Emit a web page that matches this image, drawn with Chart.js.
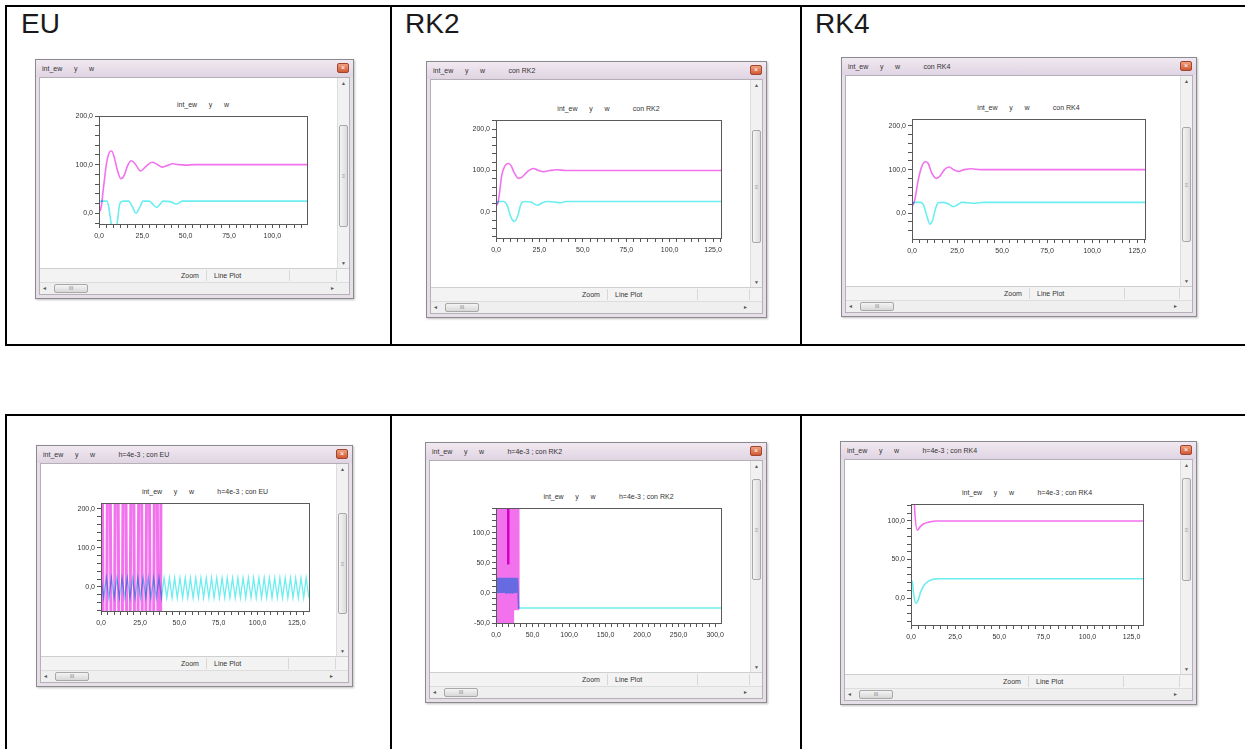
<!DOCTYPE html>
<html>
<head>
<meta charset="utf-8">
<script src="https://cdn.jsdelivr.net/npm/chart.js@4.4.0/dist/chart.umd.min.js"></script>
<style>
body { margin:0; width:1245px; height:749px; position:relative; overflow:hidden; background:#fff; font-family:"Liberation Sans", Arial, sans-serif; }
.ln { position:absolute; background:#000; }
.cap { position:absolute; top:10px; font-size:28px; line-height:28px; color:#1a1a1a; }
.win { position:absolute; box-sizing:border-box; border:1px solid #8c8a8e; background:#e6dfe8; box-shadow:1px 1px 2px rgba(0,0,0,0.25); }
.tbar { position:absolute; left:0; right:0; top:0; height:17px; background:linear-gradient(#f1e9f1,#e0d4e3); }
.ttxt { position:absolute; left:6px; top:0; line-height:17px; font-size:7px; color:#333; white-space:pre; }
.close { position:absolute; right:4px; top:3px; width:12px; height:10px; border-radius:2px; background:linear-gradient(#f0a080,#d05a34); border:1px solid #a0452c; box-sizing:border-box; color:#fff; font-size:7px; line-height:8px; text-align:center; }
.client { position:absolute; left:3px; right:3px; top:17px; bottom:3px; background:#fff; border:1px solid #b4b0b8; box-sizing:border-box; }
.vs { position:absolute; right:0; top:0; width:11px; background:#f1f1f1; border-left:1px solid #ddd; }
.vthumb { position:absolute; left:1px; right:1px; background:linear-gradient(90deg,#f4f4f4,#dcdcdc); border:1px solid #a8a8a8; border-radius:2px; box-sizing:border-box; }
.arr { position:absolute; left:0; right:0; text-align:center; font-size:5px; color:#555; }
.status { position:absolute; left:0; right:0; height:13px; background:#f3f3f3; border-top:1px solid #cfcfcf; font-size:7px; line-height:13px; color:#333; }
.sep { position:absolute; top:1px; bottom:1px; width:1px; background:#d8d8d8; }
.hs { position:absolute; left:0; right:0; bottom:0; height:11px; background:#efefef; border-top:1px solid #ddd; }
.hthumb { position:absolute; top:1px; bottom:1px; left:14px; width:34px; background:linear-gradient(#f4f4f4,#d8d8d8); border:1px solid #a8a8a8; border-radius:2px; box-sizing:border-box; font-size:5px; line-height:7px; text-align:center; color:#777; }
.ptitle { position:absolute; font-size:7px; color:#333; white-space:pre; transform:translateX(-50%); }
canvas { position:absolute; }
</style>
</head>
<body>
<div class="ln" style="left:5px;top:5px;width:1240px;height:2px"></div>
<div class="ln" style="left:5px;top:344px;width:1240px;height:2px"></div>
<div class="ln" style="left:5px;top:5px;width:2px;height:341px"></div>
<div class="ln" style="left:390px;top:5px;width:2px;height:341px"></div>
<div class="ln" style="left:800px;top:5px;width:2px;height:341px"></div>
<div class="ln" style="left:5px;top:414px;width:1240px;height:2px"></div>
<div class="ln" style="left:5px;top:414px;width:2px;height:335px"></div>
<div class="ln" style="left:390px;top:414px;width:2px;height:335px"></div>
<div class="ln" style="left:800px;top:414px;width:2px;height:335px"></div>
<div class="cap" style="left:21px">EU</div>
<div class="cap" style="left:405px">RK2</div>
<div class="cap" style="left:815px">RK4</div>
<script>
// ---- EU, default step ----
var euMagT = [0, 0.8, 2.5, 4.4, 5.8, 7.2, 8.6, 10.5, 12.6, 14.5, 16.5, 18.7, 21, 23.9, 27, 30.6, 33.4, 36.2, 39.3, 42.6, 46, 50, 55, 120];
var euMagY = [20, 5, 50, 104, 124, 128, 118, 90, 71, 78, 98, 108, 101, 87, 96, 105, 101, 95, 98, 102, 100, 99, 100, 100];
var euCyT = [0, 1, 4.5, 5.5, 7, 9, 10.5, 12, 14, 17, 19.5, 21.3, 23.5, 25.5, 29, 31.5, 33.3, 35, 37, 41, 43, 44.8, 46.5, 48, 55, 120];
var euCyY = [20, 25, 25, 15, -20, -45, -20, 20, 25, 25, 12, 0, 12, 25, 25, 17, 12, 18, 25, 24, 21, 19, 22, 25, 25, 25];

// ---- RK2, default step ----
var rk2MagT = [0, 1, 2, 3.3, 5, 7, 8.5, 10.5, 13, 15, 18, 21.5, 24.5, 27.5, 31, 35, 40, 130];
var rk2MagY = [15, 20, 45, 88, 110, 117, 113, 95, 81, 84, 97, 105, 100, 97, 100, 102, 100, 100];
var rk2CyT = [0, 1.5, 4.5, 6.5, 8.5, 10.5, 12.5, 14.5, 16.5, 20, 23.8, 27, 30, 34, 37, 40, 130];
var rk2CyY = [18, 25, 25, 15, -12, -23, -10, 20, 25, 24, 16, 23, 25, 24, 22, 25, 25];

// ---- RK4, default step ----
var rk4MagT = [0, 1.5, 3.5, 5.5, 7.5, 9, 11, 13.5, 15.5, 18, 20.5, 23, 25.7, 29, 33, 38, 130];
var rk4MagY = [15, 30, 77, 108, 118, 114, 92, 80, 85, 100, 106, 100, 96, 100, 102, 100, 100];
var rk4CyT = [0, 1.5, 5, 6.5, 8.5, 10, 11.5, 13, 14.6, 17, 20, 23, 25.5, 27.6, 31, 35, 40, 130];
var rk4CyY = [20, 25, 25, 18, -10, -25, -15, 10, 24, 25, 22, 15, 20, 25, 24, 23, 25, 25];

// ---- EU, h=4e-3 (diverging int_ew, oscillating w) ----
var euhMagT = [0, 2.5, 5, 7.5, 10, 12.5, 15, 17.5, 20, 22.5, 25, 27.5, 30, 32.5, 35, 37.5, 38.7];
var euhMagY = [1000, -1000, 1000, -1000, 1000, -1000, 1000, -1000, 1000, -1000, 1000, -1000, 1000, -1000, 1000, -1000, 1000];
var euhCyT = [0, 1.7, 3.4, 5.0, 6.7, 8.4, 10.1, 11.8, 13.4, 15.1, 16.8, 18.5, 20.2, 21.8, 23.5, 25.2, 26.9, 28.6, 30.2, 31.9,
  33.6, 35.3, 37.0, 38.6, 40.3, 42.0, 43.7, 45.4, 47.0, 48.7, 50.4, 52.1, 53.8, 55.4, 57.1, 58.8, 60.5, 62.2, 63.8, 65.5,
  67.2, 68.9, 70.6, 72.2, 73.9, 75.6, 77.3, 79.0, 80.6, 82.3, 84.0, 85.7, 87.4, 89.0, 90.7, 92.4, 94.1, 95.8, 97.4, 99.1,
  100.8, 102.5, 104.2, 105.8, 107.5, 109.2, 110.9, 112.6, 114.2, 115.9, 117.6, 119.3, 121.0, 122.6, 124.3, 126.0, 127.7, 129.4, 131.0, 132.7];
var euhCyY = [23, -28, 23, -28, 23, -28, 23, -28, 23, -28, 23, -28, 23, -28, 23, -28, 23, -28, 23, -28,
  23, -28, 23, -28, 23, -28, 23, -28, 23, -28, 23, -28, 23, -28, 23, -28, 23, -28, 23, -28,
  23, -28, 23, -28, 23, -28, 23, -28, 23, -28, 23, -28, 23, -28, 23, -28, 23, -28, 23, -28,
  23, -28, 23, -28, 23, -28, 23, -28, 23, -28, 23, -28, 23, -28, 23, -28, 23, -28, 23, -28];

// ---- RK2, h=4e-3 ----
var rk2hMagT = [0, 1, 2, 3, 4, 5, 6, 7, 8, 9, 10, 11, 12, 13, 14, 15, 16, 17, 18, 19, 20, 21, 22, 23, 24, 25, 26, 27, 28, 29, 30, 31];
var rk2hMagY = [1000, -1000, 1000, -1000, 1000, -1000, 1000, -1000, 1000, -1000, 1000, -1000, 1000, -1000, 1000, -1000,
  1000, -1000, 1000, -1000, 1000, -1000, 1000, -1000, 1000, -27, 1000, -27, 1000, -27, 1000, -27];
var rk2hDarkT = [16.8, 16.8];
var rk2hDarkY = [47, 1000];
var rk2hCyT = [0, 1, 2, 3, 4, 5, 6, 7, 8, 9, 10, 11, 12, 13, 14, 15, 16, 17, 18, 19, 20, 21, 22, 23, 24, 25, 26, 27, 28, 29.5, 31, 308];
var rk2hCyY = [0, 25, 0, 25, 0, 25, 0, 25, 0, 25, 0, 25, 0, 25, 0, 25, 0, 25, 0, 25, 0, 25, 0, 25, 0, 25, 0, 25, 0, 25, -25, -25];

// ---- RK4, h=4e-3 ----
var rk4hMagT = [0, 0.4, 1.2, 2.2, 3.6, 5, 7, 10, 15, 132];
var rk4hMagY = [40, 160, 160, 110, 88, 92, 96, 98.5, 100, 100];
var rk4hCyT = [0, 0.7, 1.5, 2.8, 4, 5.5, 7.5, 10, 13, 16, 132];
var rk4hCyY = [15, 22, 5, -7, -3, 8, 17, 22, 24.5, 25, 25];

var MAG = '#f272ee';
var CY = '#6ceef0';
var FONT = '"Liberation Sans", Arial, sans-serif';

function pts(t, y) {
  return t.map(function (v, i) { return { x: v, y: y[i] }; });
}

function fmt(v) {
  return v.toFixed(1).replace('.', ',');
}

// w is drawn over int_ew with a multiply blend, so it turns blue on the pink
var blend = {
  id: 'blend',
  beforeDatasetDraw: function (chart, args) {
    if (chart.data.datasets[args.index].mult) chart.ctx.globalCompositeOperation = 'multiply';
  },
  afterDatasetDraw: function (chart) {
    chart.ctx.globalCompositeOperation = 'source-over';
  }
};

var box = {
  id: 'box',
  afterDatasetsDraw: function (chart) {
    var a = chart.chartArea, c = chart.ctx;
    c.save();
    c.strokeStyle = '#5a5a5a';
    c.lineWidth = 1;
    c.strokeRect(Math.round(a.left) + 0.5, Math.round(a.top) + 0.5, Math.round(a.right - a.left), Math.round(a.bottom - a.top));
    c.restore();
  }
};

var YW = 34, PT = 8, PR = 16, XH = 20;

function axis(pos, min, max, major, minor) {
  return {
    type: 'linear', position: pos, min: min, max: max,
    afterBuildTicks: function (s) {
      var list = [];
      for (var k = Math.ceil(min / minor - 1e-6); k * minor <= max + 1e-6; k++) list.push({ value: k * minor });
      s.ticks = list;
    },
    afterFit: function (s) {
      if (pos === 'left') s.width = YW; else s.height = XH;
    },
    grid: { drawOnChartArea: false, drawTicks: true, tickLength: 4, tickColor: '#555', color: '#555' },
    border: { display: true, color: '#555' },
    ticks: {
      autoSkip: false, maxRotation: 0, padding: pos === 'left' ? 2 : 4, color: '#333',
      font: { size: 7, family: FONT },
      callback: function (v) {
        var r = v / major;
        return Math.abs(r - Math.round(r)) < 1e-6 ? fmt(v) : '';
      }
    }
  };
}

// sets: [t, values, colour, width, interpolation, multiply]; first entry is drawn on top
var panels = [
  { win: [35, 59, 319, 240], plot: [99, 116, 307, 224], thumb: [0.275, 0.70], wt: 'int_ew      y      w', pt: 'int_ew      y      w',
    x: [0, 120, 25, 25 / 6], y: [-22, 200, 100, 20],
    sets: [[euCyT, euCyY, CY, 1.6, 'm', true], [euMagT, euMagY, MAG, 1.6, 'm']] },
  { win: [426, 61, 341, 257], plot: [496, 120, 721, 238], thumb: [0.27, 0.71], wt: 'int_ew      y      w            con RK2', pt: 'int_ew      y      w            con RK2',
    x: [0, 129.6, 25, 25 / 6], y: [-63, 222, 100, 20],
    sets: [[rk2CyT, rk2CyY, CY, 1.6, 'm', true], [rk2MagT, rk2MagY, MAG, 1.6, 'm']] },
  { win: [841, 57, 356, 260], plot: [912, 119, 1145, 239], thumb: [0.27, 0.71], wt: 'int_ew      y      w            con RK4', pt: 'int_ew      y      w            con RK4',
    x: [0, 129.3, 25, 25 / 6], y: [-59, 216, 100, 20],
    sets: [[rk4CyT, rk4CyY, CY, 1.6, 'm', true], [rk4MagT, rk4MagY, MAG, 1.6, 'm']] },
  { win: [36, 445, 317, 242], plot: [101, 503, 309, 611], thumb: [0.28, 0.70], wt: 'int_ew      y      w            h=4e-3 ; con EU', pt: 'int_ew      y      w            h=4e-3 ; con EU',
    x: [0, 132.8, 25, 25 / 6], y: [-62, 215, 100, 20],
    sets: [[euhCyT, euhCyY, CY, 1.3, 0, true], [euhMagT, euhMagY, MAG, 3, 0]] },
  { win: [425, 442, 342, 261], plot: [496, 508, 721, 623], thumb: [0.14, 0.53], wt: 'int_ew      y      w            h=4e-3 ; con RK2', pt: 'int_ew      y      w            h=4e-3 ; con RK2',
    x: [0, 308, 50, 50 / 6], y: [-50, 141, 50, 10],
    sets: [[rk2hCyT, rk2hCyY, CY, 1.5, 0, true], [rk2hDarkT, rk2hDarkY, '#d400c6', 2.5, 0], [rk2hMagT, rk2hMagY, MAG, 2, 0]] },
  { win: [840, 441, 357, 264], plot: [911, 504, 1143, 625], thumb: [0.14, 0.53], wt: 'int_ew      y      w            h=4e-3 ; con RK4', pt: 'int_ew      y      w            h=4e-3 ; con RK4',
    x: [0, 131.5, 25, 25 / 6], y: [-35, 122, 50, 10],
    sets: [[rk4hCyT, rk4hCyY, CY, 1.6, 'm', true], [rk4hMagT, rk4hMagY, MAG, 1.6, 'm']] }
];

function el(tag, cls, parent, css, text) {
  var d = document.createElement(tag);
  if (cls) d.className = cls;
  if (css) d.style.cssText = css;
  if (text) d.textContent = text;
  parent.appendChild(d);
  return d;
}

panels.forEach(function (p) {
  var wx = p.win[0], wy = p.win[1], ww = p.win[2], wh = p.win[3];
  var w = el('div', 'win', document.body, 'left:' + wx + 'px;top:' + wy + 'px;width:' + ww + 'px;height:' + wh + 'px');
  var tb = el('div', 'tbar', w);
  el('div', 'ttxt', tb, null, p.wt);
  el('div', 'close', tb, null, '×');
  var cl = el('div', 'client', w);
  // client origin in page coords
  var cx = wx + 1 + 3 + 1, cy = wy + 1 + 17 + 1;
  var ch = wh - 2 - 17 - 3 - 2;
  var vs = el('div', 'vs', cl, 'height:' + (ch - 26) + 'px');
  el('div', 'arr', vs, 'top:2px', '▲');
  el('div', 'arr', vs, 'bottom:2px', '▼');
  var t0 = Math.round(p.thumb[0] * wh) - 19, t1 = Math.round(p.thumb[1] * wh) - 19;
  el('div', 'vthumb', vs, 'top:' + t0 + 'px;height:' + (t1 - t0) + 'px');
  el('div', 'arr', vs, 'top:' + Math.round((t0 + t1) / 2 - 3) + 'px;font-size:6px;color:#999', '≡');
  var st = el('div', 'status', cl, 'bottom:12px');
  var zx = Math.round(ww * 0.455) - 4;
  el('span', null, st, 'position:absolute;left:' + zx + 'px', 'Zoom');
  el('div', 'sep', st, 'left:' + (zx + 25) + 'px');
  el('span', null, st, 'position:absolute;left:' + (zx + 33) + 'px', 'Line Plot');
  el('div', 'sep', st, 'left:' + Math.round(ww * 0.78) + 'px');
  el('div', 'sep', st, 'right:12px');
  var hs = el('div', 'hs', cl);
  el('div', 'arr', hs, 'left:2px;right:auto;top:2px', '◄');
  el('div', 'arr', hs, 'right:14px;left:auto;top:2px', '►');
  el('div', 'hthumb', hs, null, 'III');

  var pl = p.plot[0], ptp = p.plot[1], pr = p.plot[2], pb = p.plot[3];
  el('div', 'ptitle', cl, 'left:' + ((pl + pr) / 2 - cx) + 'px;top:' + (ptp - cy - 15) + 'px', p.pt);

  var cv = el('canvas', null, cl);
  var cw = (pr - pl) + YW + PR, chh = (pb - ptp) + PT + XH;
  cv.width = cw; cv.height = chh;
  cv.style.left = (pl - cx - YW) + 'px';
  cv.style.top = (ptp - cy - PT) + 'px';
  cv.style.width = cw + 'px'; cv.style.height = chh + 'px';

  var ds = p.sets.map(function (s) {
    return {
      data: pts(s[0], s[1]),
      borderColor: s[2], borderWidth: s[3],
      pointRadius: 0, fill: false, clip: 0,
      cubicInterpolationMode: s[4] === 'm' ? 'monotone' : 'default',
      tension: 0,
      mult: !!s[5]
    };
  });

  new Chart(cv, {
    type: 'line',
    data: { datasets: ds },
    options: {
      responsive: false, animation: false, devicePixelRatio: 1,
      layout: { padding: { top: PT, right: PR, left: 0, bottom: 0 } },
      plugins: { legend: { display: false }, title: { display: false }, tooltip: { enabled: false } },
      scales: {
        x: axis('bottom', p.x[0], p.x[1], p.x[2], p.x[3]),
        y: axis('left', p.y[0], p.y[1], p.y[2], p.y[3])
      }
    },
    plugins: [blend, box]
  });
});
</script>
</body>
</html>
